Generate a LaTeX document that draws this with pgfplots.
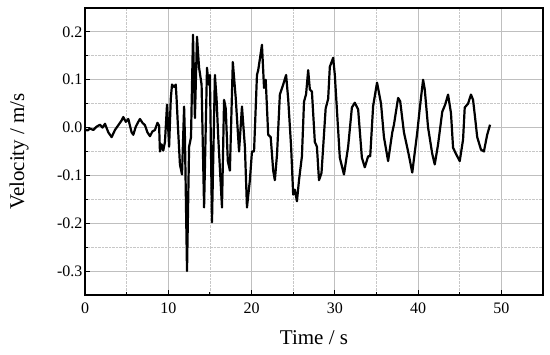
\documentclass[border=0pt]{standalone}
\usepackage{pgfplots}
\pgfplotsset{compat=1.18}
\usepackage{fontspec}
\setmainfont{Liberation Serif}
\begin{document}
\begin{tikzpicture}
\begin{axis}[
  scale only axis, width=458pt, height=287pt,
  xmin=0, xmax=55, ymin=-0.35, ymax=0.25,
  xtick={0,10,...,50}, minor xtick={5,15,...,55},
  ytick={-0.3,-0.2,-0.1,0,0.1,0.2}, minor ytick={-0.35,-0.25,...,0.25},
  tick align=inside, xtick pos=bottom, ytick pos=left,
  major tick length=5pt, minor tick length=3pt,
  grid=both,
  major grid style={color=black!25, line width=0.9pt},
  minor grid style={color=black!22, densely dotted, line width=0.7pt},
  axis line style={line width=1.3pt},
  tick style={black, line width=1pt},
  /pgf/number format/assume math mode=true,
  yticklabel style={/pgf/number format/fixed, /pgf/number format/fixed zerofill, /pgf/number format/precision=1, xshift=1pt},
  ticklabel style={font=\fontsize{16}{18}\selectfont},
  xticklabel style={yshift=-4pt},
  xlabel={Time / s},
  label style={font=\fontsize{21}{24}\selectfont},
  xlabel style={at={(axis description cs:0.5,0)}, anchor=center, yshift=-43pt},
]
\coordinate (sw) at (rel axis cs:0,0);
\coordinate (ne) at (rel axis cs:1,1);
\addplot[black, line width=2.2pt, line join=round] coordinates {
(0,-0.004) (0.3,-0.006) (0.6,-0.002) (1.0,-0.005) (1.4,0.002) (1.8,0.006) (2.1,0.0) (2.4,0.008)
(2.8,-0.01) (3.2,-0.02) (3.6,-0.005) (4.0,0.005) (4.4,0.015) (4.6,0.022) (4.9,0.012) (5.2,0.018)
(5.6,-0.01) (5.8,-0.015) (6.1,0.002) (6.4,0.012) (6.6,0.018) (6.9,0.01) (7.2,0.005) (7.5,-0.01)
(7.8,-0.018) (8.1,-0.008) (8.4,-0.005) (8.7,0.01) (8.9,0.004) (9.0,-0.05) (9.2,-0.035) (9.4,-0.048)
(9.6,-0.03) (9.85,0.048) (10.1,-0.04) (10.3,0.06) (10.45,0.09) (10.7,0.085) (10.9,0.09) (11.0,0.06)
(11.15,0.006) (11.4,-0.077) (11.65,-0.098) (11.9,0.044) (12.0,-0.02) (12.25,-0.30) (12.5,-0.04)
(12.73,-0.02) (12.97,0.194) (13.2,0.02) (13.45,0.19) (13.7,0.125) (14.0,0.09) (14.3,-0.167)
(14.65,0.125) (14.85,0.09) (15.0,0.11) (15.25,-0.198) (15.6,0.11) (15.8,0.06) (16.0,-0.02)
(16.45,-0.167) (16.7,0.058) (16.9,0.04) (17.15,-0.07) (17.4,-0.09) (17.75,0.137) (18.1,0.062)
(18.5,-0.05) (18.85,0.044) (19.2,-0.04) (19.45,-0.167) (19.8,-0.11) (20.05,-0.05) (20.3,-0.05)
(20.65,0.11) (20.8,0.12) (21.25,0.173) (21.5,0.083) (21.7,0.1) (22.0,-0.015) (22.3,-0.02)
(22.6,-0.09) (22.8,-0.11) (23.06,-0.056) (23.4,0.069) (23.8,0.09) (24.15,0.11) (24.4,0.06)
(24.75,-0.04) (25.0,-0.14) (25.2,-0.13) (25.45,-0.154) (25.7,-0.11) (26.05,-0.06) (26.3,0.054)
(26.55,0.07) (26.8,0.12) (27.0,0.08) (27.25,0.075) (27.6,-0.03) (27.85,-0.04) (28.1,-0.11)
(28.4,-0.095) (28.9,0.04) (29.2,0.06) (29.4,0.127) (29.8,0.146) (30.0,0.11) (30.6,-0.063)
(31.1,-0.098) (31.6,-0.04) (32.05,0.042) (32.4,0.052) (32.8,0.038) (33.25,-0.063) (33.6,-0.083)
(34.0,-0.06) (34.25,-0.06) (34.6,0.045) (35.07,0.094) (35.55,0.05) (35.9,-0.02) (36.4,-0.07)
(36.9,-0.01) (37.1,0.006) (37.6,0.062) (37.85,0.055) (38.3,-0.01) (38.8,-0.05) (39.3,-0.094)
(39.9,-0.01) (40.2,0.04) (40.6,0.1) (40.8,0.08) (41.2,0.0) (41.7,-0.055) (42.0,-0.077)
(42.4,-0.035) (42.9,0.033) (43.25,0.048) (43.6,0.069) (43.95,0.03) (44.2,-0.042) (44.55,-0.055)
(45.0,-0.07) (45.4,-0.025) (45.6,0.042) (46.0,0.05) (46.35,0.069) (46.6,0.058) (46.85,0.02)
(47.1,-0.02) (47.55,-0.046) (47.9,-0.05) (48.3,-0.015) (48.64,0.006)
};
\end{axis}
\node[rotate=90, anchor=center, font=\fontsize{21}{24}\selectfont] at ([shift={(-66pt,143.5pt)}]sw) {Velocity / m/s};
\pgfresetboundingbox
\path ([shift={(-85pt,-59pt)}]sw) rectangle ([shift={(7pt,8pt)}]ne);
\end{tikzpicture}
\end{document}
